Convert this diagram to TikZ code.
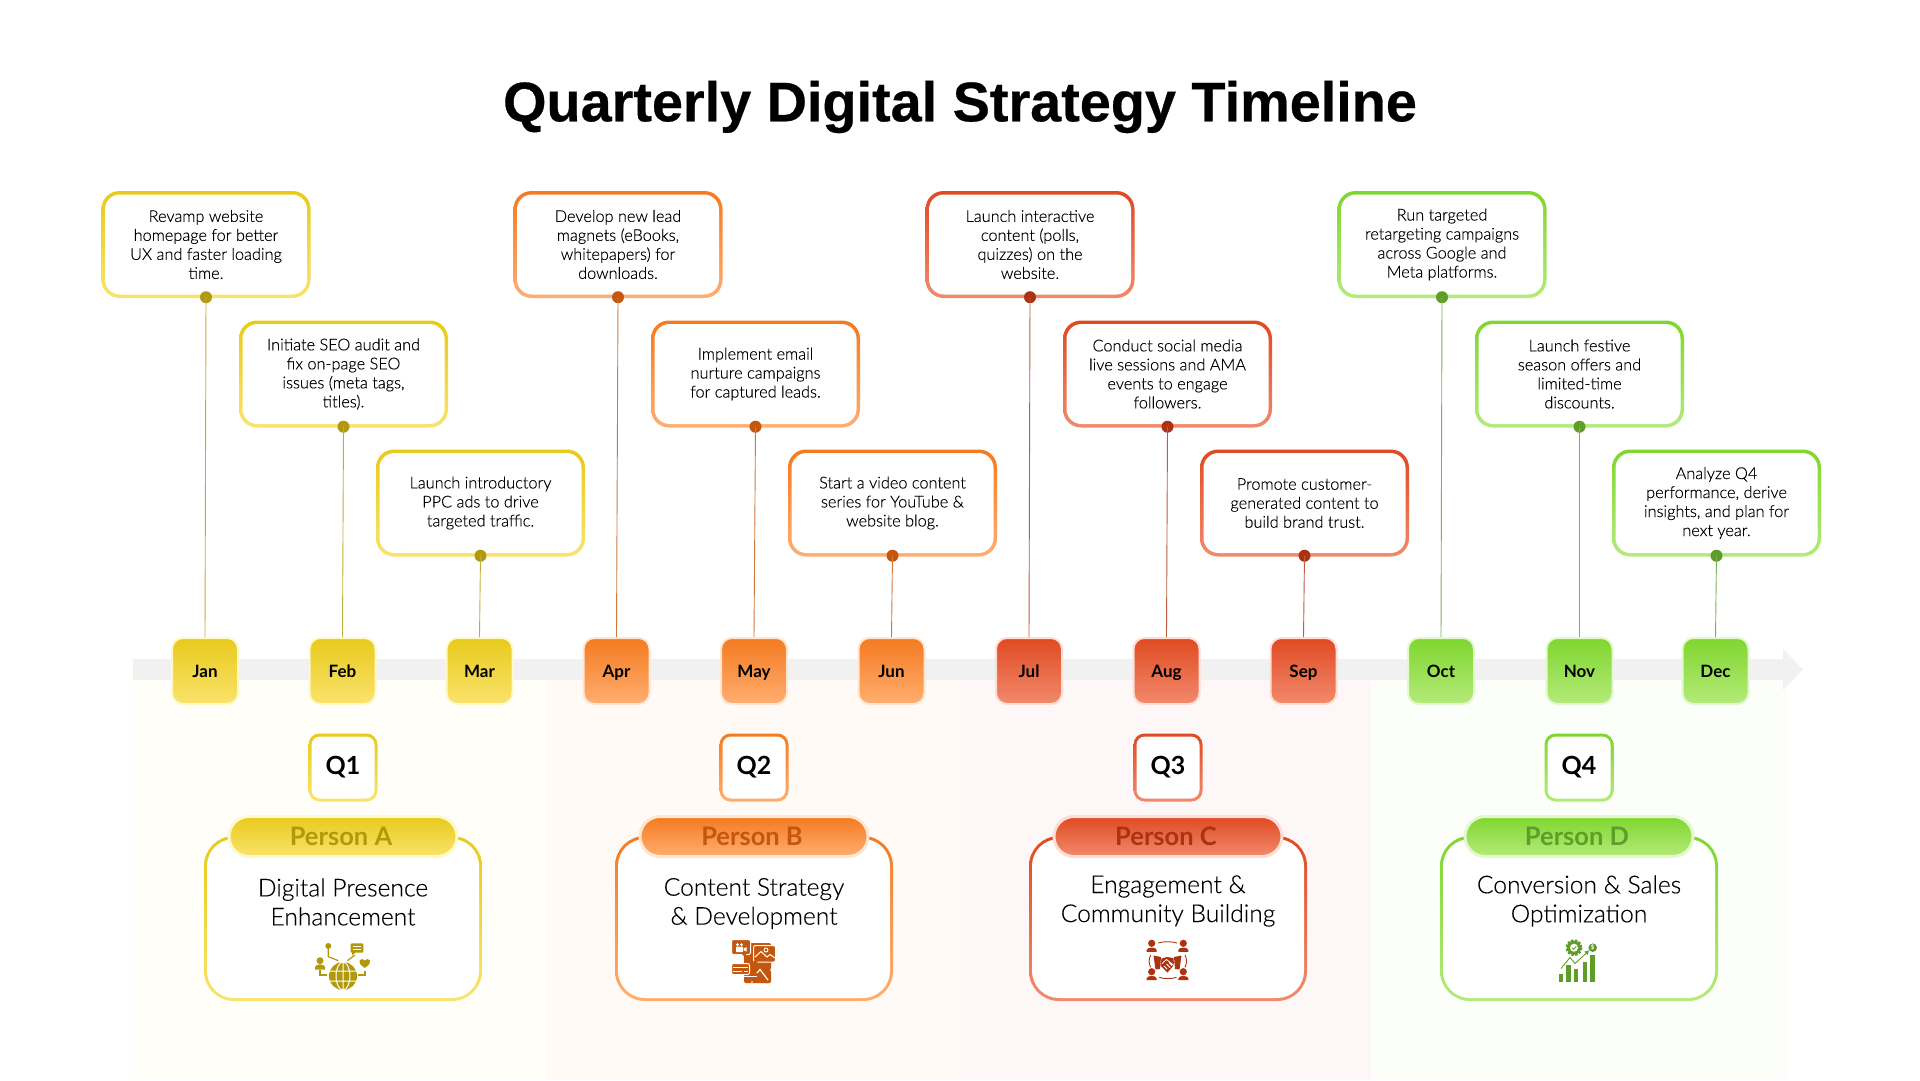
\documentclass[tikz,border=0pt]{standalone}
\usepackage{fontspec}
\setmainfont{Lato}
\newfontfamily\bodylight[FakeBold=0.25]{Lato Light}
\newfontfamily\titlefont[BoldFeatures={FakeBold=0.5}]{Liberation Sans}
\definecolor{atop}{HTML}{E8CA1C}\definecolor{abot}{HTML}{FAE36C}\definecolor{apale}{HTML}{FFF8C8}\definecolor{adark}{HTML}{B2990C}\definecolor{atint}{HTML}{FFFEF9}
\definecolor{btop}{HTML}{F47A20}\definecolor{bbot}{HTML}{FFAE70}\definecolor{bpale}{HTML}{FFE6D2}\definecolor{bdark}{HTML}{C4560D}\definecolor{btint}{HTML}{FFFAF6}
\definecolor{ctop}{HTML}{DF4A22}\definecolor{cbot}{HTML}{F28A6C}\definecolor{cpale}{HTML}{FDDDD4}\definecolor{cdark}{HTML}{AC3312}\definecolor{ctint}{HTML}{FDF8F7}
\definecolor{dtop}{HTML}{7FD62F}\definecolor{dbot}{HTML}{B4EA7A}\definecolor{dpale}{HTML}{E4F8D0}\definecolor{ddark}{HTML}{5E9E28}\definecolor{dtint}{HTML}{FCFEF9}
\definecolor{bandgray}{HTML}{F1F1F1}
\tikzset{
 x=1pt,y=-1pt,
 calltext/.style={fill=white,rounded corners=15pt,minimum width=202pt,minimum height=100pt,inner sep=0pt,align=center,font=\bodylight\fontsize{16.3}{19}\selectfont,text=black},
 shell/.style={shade,top color=#1top,bottom color=#1bot,inner sep=0pt},
 wire/.style={line width=0.9pt,#1dark!80},
 dotmark/.style={circle,fill=#1dark,minimum size=12pt,inner sep=0pt},
 tile/.style={shade,top color=#1top,bottom color=#1bot,draw=#1pale,line width=2pt,rounded corners=11pt,minimum width=66pt,minimum height=66pt,inner sep=0pt,text height=14pt,text depth=1.5pt,font=\fontsize{17}{20}\selectfont\bfseries},
 pill/.style={shade,top color=#1top,bottom color=#1bot,draw=#1pale,line width=3pt,rounded corners=20pt,minimum width=228pt,minimum height=40pt,inner sep=0pt,text height=20pt,text depth=2pt,font=\fontsize{25.5}{28}\selectfont\bfseries,text=#1dark},
 cardtext/.style={inner sep=0pt,align=center,font=\bodylight\fontsize{24.6}{29}\selectfont,text=black},
}
\newcommand{\callout}[6]{% name cx cy quarter month text
 \node[shell=#4,rounded corners=18pt,minimum width=209pt,minimum height=107pt] (#1) at (#2,#3) {};
 \node[calltext] (#1t) at (#2,#3) {#6};
 \node[dotmark=#4,yshift=1pt] (#1d) at (#1.south) {};
 \draw[wire=#4] (#1d.center) -- (#5.north);
}
\newcommand{\quarterblock}[6]{% q cx person title texty Q
 \node[shell=#1,rounded corners=11pt,minimum width=69pt,minimum height=68pt] (q#1) at (#2,767.5) {};
 \node[fill=white,rounded corners=8.5pt,minimum width=63pt,minimum height=62pt,inner sep=0pt,font=\fontsize{25}{30}\selectfont\bfseries] (q#1t) at (#2,767.5) {#6};
 \node[shell=#1,rounded corners=30pt,minimum width=278pt,minimum height=165pt] (card#1) at (#2,918.5) {};
 \node[fill=white,rounded corners=27pt,minimum width=272pt,minimum height=159pt,inner sep=0pt] (card#1i) at (#2,918.5) {};
 \node[pill=#1] (pill#1) at (#2,836.5) {\kern-4pt #3};
 \node[cardtext] (title#1) at (#2,#5) {#4};
}
\begin{document}
\begin{tikzpicture}
\useasboundingbox (0,0) rectangle (1920,1080);
\fill[white] (0,0) rectangle (1920,1080);
% quarter panels
\fill[atint] (133,680) rectangle (547,1080);
\fill[btint] (547,680) rectangle (961,1080);
\fill[ctint] (961,680) rectangle (1371,1080);
\fill[dtint] (1371,680) rectangle (1786,1080);
% axis arrow
\fill[bandgray] (133,659) -- (1783,659) -- (1783,649) -- (1803,669.5) -- (1783,690) -- (1783,680) -- (133,680) -- cycle;
% title
\node[inner sep=0pt,font=\titlefont\fontsize{55.8}{64}\selectfont\bfseries] (title) at (960,107) {Quarterly Digital Strategy Timeline};
% month tiles
\node[tile=a] (jan) at (205,671) {Jan};
\node[tile=a] (feb) at (342.5,671) {Feb};
\node[tile=a] (mar) at (479.5,671) {Mar};
\node[tile=b] (apr) at (616.5,671) {Apr};
\node[tile=b] (may) at (754,671) {May};
\node[tile=b] (jun) at (891.5,671) {Jun};
\node[tile=c] (jul) at (1029,671) {Jul};
\node[tile=c] (aug) at (1166.5,671) {Aug};
\node[tile=c] (sep) at (1303.5,671) {Sep};
\node[tile=d] (oct) at (1441,671) {Oct};
\node[tile=d] (nov) at (1579.5,671) {Nov};
\node[tile=d] (dec) at (1715.5,671) {Dec};
% callouts
\callout{c1}{206}{244.5}{a}{jan}{Revamp website\\homepage for better\\UX and faster loading\\time.}
\callout{c2}{343.5}{374}{a}{feb}{Initiate SEO audit and\\fix on-page SEO\\issues (meta tags,\\titles).}
\callout{c3}{480.5}{503}{a}{mar}{Launch introductory\\PPC ads to drive\\targeted traffic.}
\callout{c4}{618}{244.5}{b}{apr}{Develop new lead\\magnets (eBooks,\\whitepapers) for\\downloads.}
\callout{c5}{755.5}{374}{b}{may}{Implement email\\nurture campaigns\\for captured leads.}
\callout{c6}{892.5}{503}{b}{jun}{Start a video content\\series for YouTube \&\\website blog.}
\callout{c7}{1030}{244.5}{c}{jul}{Launch interactive\\content (polls,\\quizzes) on the\\website.}
\callout{c8}{1167.5}{374}{c}{aug}{Conduct social media\\live sessions and AMA\\events to engage\\followers.}
\callout{c9}{1304.5}{503}{c}{sep}{Promote customer-\\generated content to\\build brand trust.}
\callout{c10}{1442}{244.5}{d}{oct}{Run targeted\\retargeting campaigns\\across Google and\\Meta platforms.}
\callout{c11}{1579.5}{374}{d}{nov}{Launch festive\\season offers and\\limited-time\\discounts.}
\callout{c12}{1716.5}{503}{d}{dec}{Analyze Q4\\performance, derive\\insights, and plan for\\next year.}
% quarter blocks
\quarterblock{a}{343}{Person A}{Digital Presence\\Enhancement}{902}{Q1}
\quarterblock{b}{754}{Person B}{Content Strategy\\\& Development}{903.5}{Q2}
\quarterblock{c}{1168}{Person C}{Engagement \&\\Community Building}{901}{Q3}
\quarterblock{d}{1579}{Person D}{Conversion \& Sales\\Optimization}{901}{Q4}
% icon Q1
\begin{scope}[adark]
\fill (343,976) circle (14);
\draw[white,line width=1pt] (343,962) -- (343,990) (329,971) -- (357,971) (329,981) -- (357,981) (343,976) ellipse (7 and 14);
\fill (320,960.7) circle (3.5);
\fill (315,969.5) -- (315,967) .. controls (316,963.5) and (324,963.5) .. (325,967) -- (325,969.5) -- cycle;
\fill (328.3,946) circle (3);
\draw[line width=1.2pt] (328.3,947) -- (328.3,956.7) -- (338.3,960.7);
\fill[rounded corners=1pt] (350.7,943.3) rectangle (363.3,952.7);
\fill (352,952) -- (352,955.5) -- (356,952) -- cycle;
\draw[white,line width=0.9pt] (353,946.3) -- (361,946.3) (353,949.5) -- (361,949.5);
\draw[line width=1.2pt] (355,955) -- (347.3,960.7);
\fill (364.7,968) .. controls (360,964.5) and (358.5,962.5) .. (359.5,960.5) .. controls (360.5,958.5) and (363.5,958.5) .. (364.7,960.5) .. controls (366,958.5) and (369,958.5) .. (370,960.5) .. controls (371,962.5) and (369.5,964.5) .. (364.7,968) -- cycle;
\draw[line width=1.2pt] (320,970) -- (320,975) -- (327.3,975) (365,970.7) -- (365,975) -- (358.3,975);
\end{scope}
% icon Q2
\begin{scope}[bdark]
\fill[rounded corners=2pt] (744,943) rectangle (771,983);
\fill[white] (743,975.5) rectangle (757,977);
\fill[white] (768,978) -- (771,983) -- (775,983) -- (775,970) -- (771,968) -- cycle;
\fill[bdark,rounded corners=2pt] (762,972) -- (771,970) -- (771,983) -- (763,983) -- cycle;
\draw[white,line width=1.2pt,line cap=round] (757,973) -- (760,969.5) -- (768,980);
\fill[white] (752,982) circle (0.9);
\filldraw[draw=white,line width=1pt,rounded corners=2pt] (753.5,945.5) rectangle (775.5,962);
\fill (753.7,961) -- (753.7,966) -- (758,961.5) -- cycle;
\draw[white,line width=1pt] (755,957) -- (761,951.5) -- (767,957) -- (770,954.5) -- (775,958);
\draw[white,line width=0.9pt] (766,950) circle (2);
\filldraw[draw=white,line width=1pt,rounded corners=2pt] (731.5,939.5) rectangle (750.5,954.5);
\fill (742,954) -- (746,958) -- (746,954) -- cycle;
\fill[white,rounded corners=0.5pt] (736,946.5) rectangle (743,952);
\fill[white] (743.5,948.5) -- (746.5,947) -- (746.5,951.5) -- (743.5,950) -- cycle;
\fill[white] (737.5,944.5) circle (1.5) (741.5,944.5) circle (1.5);
\filldraw[draw=white,line width=1pt,rounded corners=2pt] (731.5,963.5) rectangle (749.5,974.5);
\draw[white,line width=0.9pt] (733,967.5) -- (748,967.5) (733,971) -- (742,971) (744,971) -- (748,971);
\end{scope}
% icon Q3
\begin{scope}[cdark]
\foreach \px/\py in {1151.7/943.3,1183.3/943.3,1151.7/971.7,1183.3/971.7}{
 \fill (\px,\py) circle (3.6);
 \fill[shift={(\px,\py)}] (-5,8.5) -- (-5,6.5) .. controls (-4.5,3.5) and (4.5,3.5) .. (5,6.5) -- (5,8.5) -- cycle;
}
\draw[line width=0.9pt] (1158.3,943) .. controls (1163,941.3) and (1172,941.3) .. (1177,943);
\draw[line width=0.9pt] (1159.3,977.3) .. controls (1163,979) and (1172,979) .. (1176.5,977.3);
\draw[line width=0.9pt] (1150.7,955) .. controls (1148.6,959) and (1148.6,963) .. (1150.7,967.3);
\draw[line width=0.9pt] (1185,955) .. controls (1187,959) and (1187,963) .. (1185,967.3);
\fill (1153.5,955.5) -- (1161,957) -- (1160,969) -- (1155.5,969.5) -- cycle;
\fill (1181.5,955.5) -- (1174,957) -- (1175,969) -- (1179.5,969.5) -- cycle;
\fill (1161.5,958.5) -- (1167,957) -- (1173.5,958) -- (1174,965) -- (1167.5,972.5) -- (1160.5,965.5) -- cycle;
\draw[white,line width=0.8pt] (1162,963.5) -- (1166.5,959.5) -- (1174,965.5) (1164,966) -- (1167,969) (1166.5,964) -- (1170,967.5) (1169,962.5) -- (1172,965.5);
\end{scope}
% icon Q4
\begin{scope}[ddark]
\fill (1559,974) rectangle (1563.3,981.7);
\fill (1566,965) rectangle (1570.7,981.7);
\fill (1574,969.3) rectangle (1578.3,981.7);
\fill (1582.7,961.7) rectangle (1587.3,981.7);
\fill (1590,955) rectangle (1595,981.7);
\draw[line width=2.2pt,dash pattern=on 2.4pt off 1.5pt] (1574,947.7) circle (7.3);
\fill (1574,947.7) circle (7);
\fill[white] (1574,947.7) circle (4);
\draw[line width=0.9pt] (1572,947.7) -- (1573.5,949.3) -- (1576.3,946.3);
\fill (1592.7,947.7) circle (4.3);
\node[white,inner sep=0pt,font=\fontsize{6}{6}\selectfont\bfseries] (coin) at (1592.7,947.7) {\$};
\draw[line width=0.9pt] (1561,968.5) -- (1570,957.5) -- (1575,963.5) -- (1587,952.5);
\fill (1589,950.5) -- (1584.5,951.5) -- (1587.5,955) -- cycle;
\end{scope}
\end{tikzpicture}
\end{document}
